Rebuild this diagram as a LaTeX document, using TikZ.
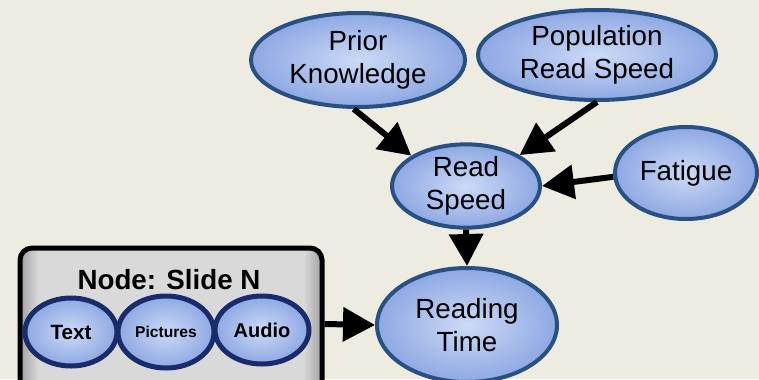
\documentclass[tikz,border=0pt]{standalone}
\usepackage{fontspec}
\setmainfont{Liberation Sans}
\usetikzlibrary{shapes.geometric}
\usetikzlibrary{arrows.meta}
\definecolor{bgcream}{RGB}{238,236,225}
\definecolor{varin}{RGB}{204,218,246}
\definecolor{varout}{RGB}{142,168,227}
\definecolor{varedge}{RGB}{40,80,130}
\definecolor{subedge}{RGB}{24,44,108}
\definecolor{boxdark}{RGB}{160,160,160}
\definecolor{boxlight}{RGB}{217,217,217}
\pgfdeclarehorizontalshading{slidegray}{100bp}{color(0bp)=(boxdark); color(25bp)=(boxdark); color(28bp)=(boxlight); color(72bp)=(boxlight); color(75bp)=(boxdark); color(100bp)=(boxdark)}
\tikzset{>={Triangle[length=24pt,width=25pt]},
  var/.style={ellipse,draw=varedge,line width=3pt,inner sep=0pt,align=center,
    shading=radial,inner color=varin,outer color=varout,
    font=\fontsize{20.8}{24.8}\selectfont},
  subvar/.style={ellipse,draw=subedge,line width=3.75pt,inner sep=0pt,
    shading=radial,inner color=varin,outer color=varout},
  link/.style={->,line width=4.5pt}}

\begin{document}
\begin{tikzpicture}[x=0.75pt,y=-0.75pt]
  % background
  \fill[bgcream] (0,0) rectangle (759,379);
  \useasboundingbox (0,0) rectangle (759,379);

  % variables
  \node[var,minimum width=160.5pt,minimum height=70.5pt] (pk) at (358,60) {Prior\\Knowledge};
  \node[var,minimum width=178.5pt,minimum height=67.5pt] (pop) at (597,55) {Population\\Read Speed};
  \node[var,minimum width=111pt,minimum height=55.5pt] (rs) at (466,186) {Read\\Speed};
  \node[var,minimum width=106.5pt,minimum height=69pt] (fat) at (686,173) {Fatigue};
  \node[var,minimum width=135pt,minimum height=85.5pt] (rt) at (467,325) {Reading\\Time};

  % slide node
  \node[rectangle,rounded corners=9pt,draw=black,line width=3.75pt,shading=slidegray,
    minimum width=226.5pt,minimum height=114pt] (slide) at (171,324) {};
  \node[font=\fontsize{20.8}{24}\selectfont\bfseries] (slidelbl) at (169,280) {Node: Slide N};
  \node[subvar,minimum width=69pt,minimum height=51pt,font=\fontsize{15.5}{18}\selectfont\bfseries] (txt) at (71,332) {Text};
  \node[subvar,minimum width=72pt,minimum height=54pt,font=\fontsize{11.7}{14}\selectfont\bfseries] (pics) at (166,332) {Pictures};
  \node[subvar,minimum width=70.5pt,minimum height=51pt,font=\fontsize{15}{18}\selectfont\bfseries] (aud) at (262,330) {Audio};

  % links
  \draw[link] (pk.-95) -- (rs.151);
  \draw[link] (pop.-90) -- (rs.30);
  \draw[link] (fat.183) -- (rs.east);
  \draw[link] (rs.south) -- (rt.north);
  \draw[link] (slide.east) -- (rt.west);
\end{tikzpicture}
\end{document}
